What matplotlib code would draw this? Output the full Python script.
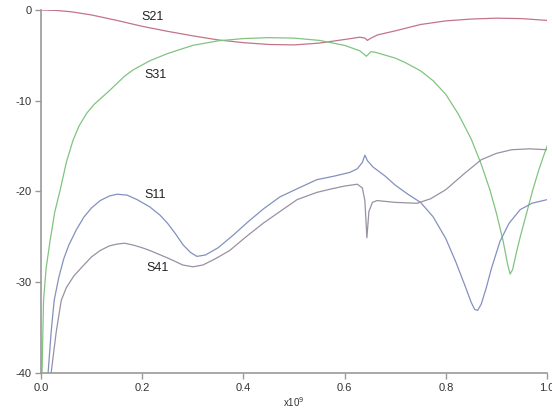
import matplotlib
matplotlib.use("Agg")
import matplotlib.pyplot as plt

plt.rcParams['font.family'] = ['Liberation Sans', 'DejaVu Sans']

# frequency in units of 1e9 Hz, magnitudes in dB
s21_x = [0.0, 0.03, 0.06, 0.1, 0.15, 0.2, 0.25, 0.3, 0.35, 0.4, 0.45, 0.5, 0.55, 0.6,
         0.63, 0.64, 0.645, 0.652, 0.665, 0.7, 0.75, 0.8, 0.85, 0.9, 0.95, 1.0]
s21_y = [0.0, -0.05, -0.2, -0.55, -1.15, -1.8, -2.35, -2.85, -3.3, -3.6, -3.8, -3.85, -3.65, -3.25,
         -3.0, -3.1, -3.35, -3.1, -2.75, -2.3, -1.6, -1.2, -1.0, -0.9, -0.95, -1.15]

s31_x = [0.002, 0.005, 0.01, 0.018, 0.027, 0.038, 0.05, 0.063, 0.075, 0.09, 0.105, 0.117,
         0.135, 0.15, 0.165, 0.182, 0.215, 0.25, 0.3, 0.35, 0.4, 0.45, 0.5, 0.55, 0.6,
         0.63, 0.643, 0.652, 0.66, 0.7, 0.72, 0.75, 0.775, 0.8, 0.825, 0.85, 0.87, 0.887,
         0.9, 0.913, 0.922, 0.927, 0.932, 0.94, 0.947, 0.96, 0.972, 0.985, 1.0]
s31_y = [-40.0, -32.0, -28.5, -25.4, -22.3, -19.8, -16.8, -14.4, -12.8, -11.4, -10.4, -9.8,
         -8.9, -8.1, -7.3, -6.6, -5.6, -4.8, -3.9, -3.4, -3.15, -3.05, -3.1, -3.35, -3.9,
         -4.5, -5.1, -4.6, -4.65, -5.3, -5.8, -6.7, -7.8, -9.3, -11.5, -14.2, -17.0, -19.8,
         -22.4, -25.4, -28.0, -29.1, -28.6, -26.6, -25.0, -22.3, -19.8, -17.4, -15.0]

s11_x = [0.014, 0.02, 0.026, 0.035, 0.045, 0.055, 0.07, 0.085, 0.1, 0.117, 0.135, 0.15,
         0.17, 0.19, 0.215, 0.235, 0.25, 0.265, 0.281, 0.295, 0.308, 0.325, 0.35, 0.38,
         0.41, 0.44, 0.472, 0.51, 0.545, 0.58, 0.61, 0.625, 0.635, 0.64, 0.645, 0.656,
         0.68, 0.7, 0.725, 0.75, 0.775, 0.8, 0.82, 0.838, 0.85, 0.857, 0.863, 0.87,
         0.88, 0.89, 0.907, 0.925, 0.947, 0.97, 1.0]
s11_y = [-40.0, -35.5, -32.0, -29.5, -27.4, -25.9, -24.2, -22.8, -21.8, -21.0, -20.5, -20.3,
         -20.4, -20.9, -21.7, -22.6, -23.5, -24.6, -25.9, -26.7, -27.15, -27.0, -26.2, -24.8,
         -23.3, -21.9, -20.6, -19.6, -18.7, -18.3, -17.9, -17.5, -16.8, -16.0, -16.6, -17.3,
         -18.3, -19.3, -20.3, -21.2, -22.8, -25.2, -27.8, -30.4, -32.2, -33.0, -33.1, -32.4,
         -30.6, -28.5, -25.5, -23.5, -22.0, -21.3, -20.9]

s41_x = [0.02, 0.03, 0.04, 0.05, 0.065, 0.083, 0.1, 0.117, 0.135, 0.15, 0.165, 0.182,
         0.2, 0.215, 0.232, 0.249, 0.265, 0.28, 0.3, 0.32, 0.345, 0.373, 0.405, 0.439,
         0.475, 0.506, 0.545, 0.575, 0.6, 0.625, 0.635, 0.64, 0.644, 0.648, 0.655, 0.664,
         0.7, 0.743, 0.77, 0.8, 0.835, 0.87, 0.9, 0.93, 0.965, 1.0]
s41_y = [-40.0, -35.5, -32.0, -30.6, -29.3, -28.2, -27.2, -26.5, -26.0, -25.8, -25.7, -25.9,
         -26.2, -26.5, -26.9, -27.3, -27.7, -28.1, -28.3, -28.1, -27.4, -26.5, -25.0, -23.5,
         -22.1, -20.9, -20.1, -19.7, -19.4, -19.2, -19.6, -21.0, -25.1, -22.2, -21.2, -21.0,
         -21.2, -21.3, -20.8, -19.8, -18.1, -16.5, -15.8, -15.4, -15.3, -15.4]

labels = ["S21", "S31", "S11", "S41"]
label_pos = [(0.221, -0.8), (0.227, -7.2), (0.225, -20.4), (0.231, -28.4)]

fig = plt.figure(figsize=(5.52, 4.16), dpi=100)
ax = fig.add_axes([0.0743, 0.1034, 0.9167, 0.8726])

ax.plot(s21_x, s21_y, color="#c27489", lw=0.9)
ax.plot(s31_x, s31_y, color="#80c480", lw=0.9)
ax.plot(s11_x, s11_y, color="#8391bd", lw=0.9)
ax.plot(s41_x, s41_y, color="#9a90a4", lw=0.9)

for name, (lx, ly) in zip(labels, label_pos):
    ax.text(lx, ly, name, fontsize=9, color="#222222", ha="center", va="center")

ax.set_xlim(0, 1.0)
ax.set_ylim(-40, 0)
ax.set_xticks([0.0, 0.2, 0.4, 0.6, 0.8, 1.0])
ax.set_xticklabels(["0.0", "0.2", "0.4", "0.6", "0.8", "1.0"])
ax.set_yticks([0, -10, -20, -30, -40])
ax.set_yticklabels(["0", "-10", "-20", "-30", "-40"])

for side in ["top", "right"]:
    ax.spines[side].set_visible(False)
for side in ["left", "bottom"]:
    ax.spines[side].set_color("#999999")
    ax.spines[side].set_linewidth(1.2)
ax.tick_params(direction="out", length=4, width=1, color="#999999",
               labelsize=8, labelcolor="#333333", pad=3)
ax.set_xlabel("x10$^9$", fontsize=7, color="#333333", labelpad=2)

fig.savefig("out.png", dpi=100)
